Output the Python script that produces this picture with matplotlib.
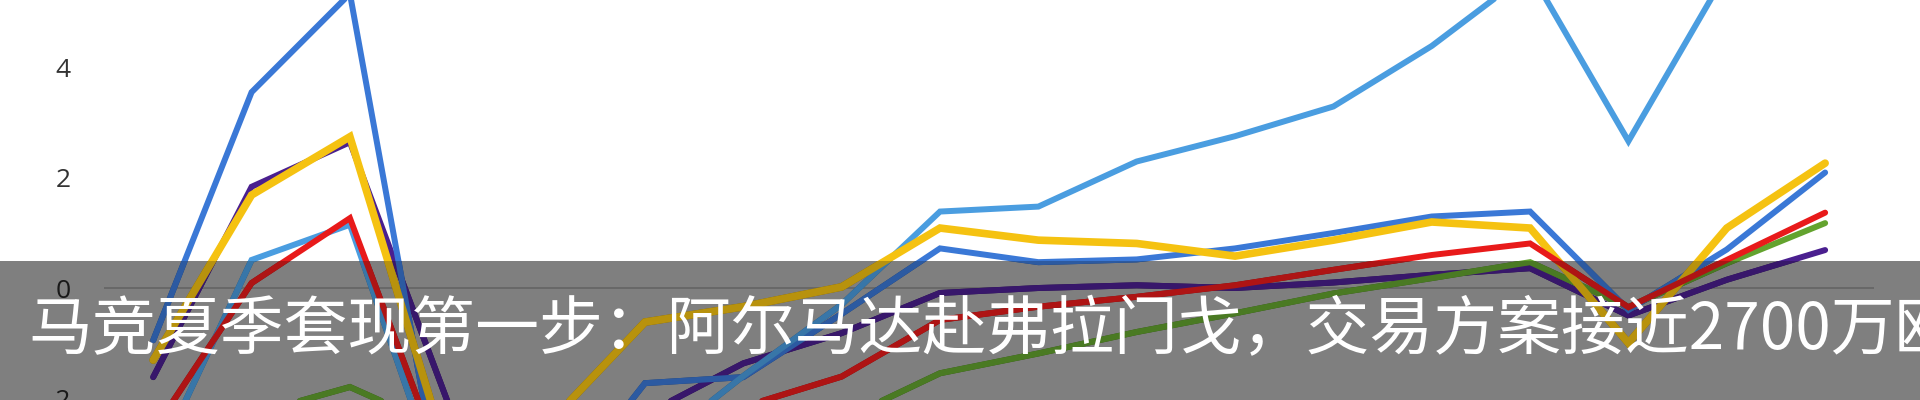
import numpy as np
import matplotlib.pyplot as plt
from matplotlib.patches import Rectangle
from matplotlib.colors import to_rgb

plt.rcParams['font.family'] = ['Noto Sans CJK SC', 'DejaVu Sans']

# 18 periods along the x axis (no labels visible in the picture)
periods = np.arange(18)
yticks = [-2, 0, 2, 4]

sky_blue = [-3.3, 0.51, 1.15, -4.0, -4.5, -3.0, -1.6, -0.3, 1.39, 1.48, 2.3, 2.76, 3.3, 4.4, 5.75, 2.67, 5.75, 6.5]
royal_blue = [-0.95, 3.56, 5.35, -4.5, -4.0, -1.73, -1.62, -0.47, 0.72, 0.47, 0.52, 0.72, 1.0, 1.3, 1.39, -0.4, 0.7, 2.1]
yellow = [-1.31, 1.69, 2.75, -3.1, -2.5, -0.62, -0.34, 0.02, 1.09, 0.87, 0.81, 0.58, 0.87, 1.2, 1.09, -1.0, 1.09, 2.27]
red = [-2.6, 0.09, 1.27, -3.5, -3.8, -2.8, -2.16, -1.61, -0.58, -0.34, -0.16, 0.05, 0.33, 0.6, 0.81, -0.35, 0.51, 1.37]
green = [-2.8, -2.3, -1.8, -2.6, -3.2, -3.0, -2.8, -2.4, -1.55, -1.19, -0.8, -0.46, -0.1, 0.18, 0.47, -0.35, 0.45, 1.18]
purple = [-1.62, 1.84, 2.65, -2.1, -3.0, -2.3, -1.37, -0.82, -0.09, 0.0, 0.05, 0.0, 0.1, 0.24, 0.36, -0.5, 0.15, 0.69]

caption = '马竞夏季套现第一步：阿尔马达赴弗拉门戈，交易方案接近2700万欧'

YMIN, YMAX = -2.036, 5.236
BAND_H = 139 / 400          # caption banner height, figure fraction
AX_POS = [0.0542, 0, 0.922, 1]

fig = plt.figure(figsize=(19.2, 4), dpi=100)
ax = fig.add_axes(AX_POS)

# draw order: bottom first
series = [
    (purple, '#4a1f8f', 4.3),
    (green, '#63a32e', 4.3),
    (royal_blue, '#3a78d6', 4.3),
    (sky_blue, '#4a9de0', 4.3),
    (yellow, '#f5c211', 5.5),
    (red, '#e81a1a', 4.3),
]
for vals, col, lw in series:
    ax.plot(periods, vals, color=col, lw=lw, solid_joinstyle='miter', solid_capstyle='round')

ax.axhline(0, color='#c8c8c8', lw=1.2, zorder=0)

ax.set_xlim(-0.5, 17.5)
ax.set_ylim(YMIN, YMAX)
ax.set_xticks([])
ax.set_yticks(yticks)
ax.set_yticklabels([str(t) for t in yticks], family='Open Sans', fontsize=19, color='#333333')
ax.tick_params(axis='y', length=0, pad=24)
for s in ax.spines.values():
    s.set_visible(False)

# translucent caption banner over the chart
fig.patches.append(Rectangle((0, 0), 1, BAND_H, transform=fig.transFigure,
                             facecolor='black', alpha=0.5, edgecolor='none', zorder=10))

# lines seen through the banner keep more of their colour than the white background
ax_band = fig.add_axes([AX_POS[0], 0, AX_POS[2], BAND_H], zorder=11)
ax_band.set_xlim(-0.5, 17.5)
ax_band.set_ylim(YMIN, YMIN + (YMAX - YMIN) * BAND_H)
ax_band.axis('off')
for vals, col, lw in series:
    ax_band.plot(periods, vals, color=np.array(to_rgb(col)) * 0.75, lw=lw,
                 solid_joinstyle='miter', solid_capstyle='round')

fig.text(28 / 1920, 1 - 331 / 400, caption, color='white', fontsize=46,
         ha='left', va='center', zorder=12)

fig.savefig('out.png', dpi=100)
